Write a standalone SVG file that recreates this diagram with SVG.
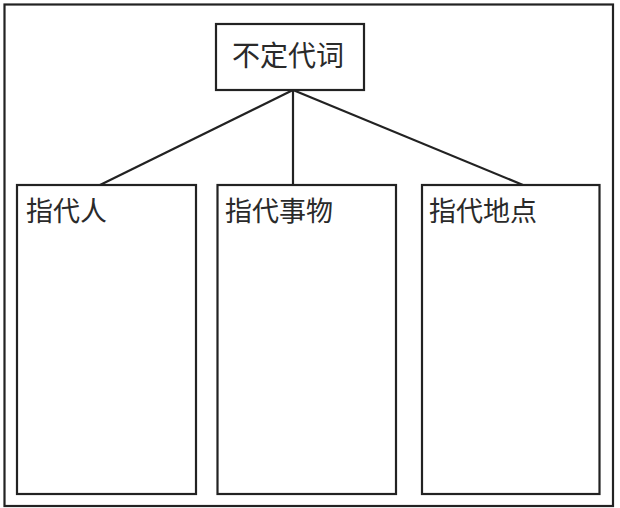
<svg xmlns="http://www.w3.org/2000/svg" width="620" height="508" viewBox="0 0 620 508">
<style>
.box{fill:#fff;stroke:#222;stroke-width:2.2}
.frame{fill:none;stroke:#222;stroke-width:2.2}
.lbl{font-family:"Noto Sans CJK SC","Noto Sans CJK JP",sans-serif;font-size:27px;fill:#2a2a2a}
.conn{stroke:#222;stroke-width:2.2;fill:none}
</style>
<rect width="620" height="508" fill="#fff"/>
<rect class="frame" x="4.5" y="4.5" width="608.5" height="501.5"/>
<g id="connectors">
<line class="conn" x1="293" y1="90" x2="100" y2="185"/>
<line class="conn" x1="293" y1="90" x2="293" y2="185"/>
<line class="conn" x1="293" y1="90" x2="523" y2="185"/>
</g>
<g id="root">
<rect class="box" x="216" y="24" width="148" height="66"/>
<text class="lbl" x="232" y="66" style="font-size:28px">不定代词</text>
</g>
<g id="people">
<rect class="box" x="17" y="185" width="179" height="309"/>
<text class="lbl" x="26" y="221">指代人</text>
</g>
<g id="things">
<rect class="box" x="217.5" y="185" width="178.5" height="309"/>
<text class="lbl" x="225" y="221">指代事物</text>
</g>
<g id="places">
<rect class="box" x="422" y="185" width="177.5" height="309"/>
<text class="lbl" x="429" y="221">指代地点</text>
</g>
</svg>
